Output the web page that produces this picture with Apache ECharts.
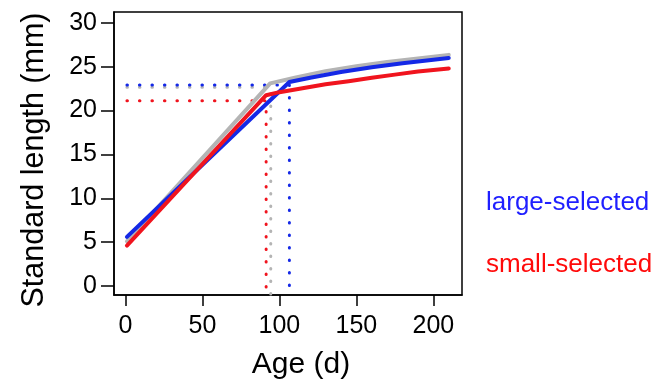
<!DOCTYPE html>
<html>
<head>
<meta charset="utf-8">
<script src="https://cdn.jsdelivr.net/npm/echarts@6/dist/echarts.min.js"></script>
<style>
  html, body { margin: 0; padding: 0; background: #fff; }
  #chart { width: 656px; height: 381px; }
</style>
</head>
<body>
<div id="chart"></div>
<script>
// 刻度
const xTicks = [0, 50, 100, 150, 200];
const yTicks = [0, 5, 10, 15, 20, 25, 30];

// 实线：全部 / large-selected / small-selected
const allAge = [1, 94, 110, 130, 150, 170, 190, 210];
const allLen = [5.1, 23.1, 23.75, 24.5, 25.05, 25.55, 25.95, 26.35];
const largeAge = [1, 106.5, 120, 140, 160, 180, 210];
const largeLen = [5.6, 23.25, 23.75, 24.4, 24.95, 25.4, 26.0];
const smallAge = [1, 91.4, 100, 115, 130, 145, 160, 175, 190, 210];
const smallLen = [4.6, 21.75, 22.1, 22.55, 23.0, 23.35, 23.75, 24.1, 24.45, 24.8];

// 虚线参考位置 [拐点年龄, 长度]
const allMark = [94.4, 22.66];
const largeMark = [106.5, 22.92];
const smallMark = [91.4, 21.13];

const xMin = -7.4, xMax = 218.6;
const yMin = -1.03, yMax = 31.24;

const BLUE = '#1428e6';
const RED = '#f0141e';
const GRAY = '#b4b4b4';
const FONT = '"Liberation Sans", Arial, Helvetica, sans-serif';

function pairs(xs, ys) {
  return xs.map((x, i) => [x, ys[i]]);
}

// 水平到拐点，再竖直到底部
function markPath(mark) {
  return [[1, mark[1]], [mark[0], mark[1]], [mark[0], yMin]];
}

function dotted(name, mark, color) {
  return {
    name: name,
    type: 'line',
    data: markPath(mark),
    showSymbol: false,
    silent: true,
    lineStyle: { color: color, width: 3, type: [0.5, 12], cap: 'round' },
    z: 1
  };
}

function solid(name, data, color, z) {
  return {
    name: name,
    type: 'line',
    data: data,
    showSymbol: false,
    silent: true,
    lineStyle: { color: color, width: 4, cap: 'round', join: 'round' },
    z: z
  };
}

const chart = echarts.init(document.getElementById('chart'));

chart.setOption({
  animation: false,
  backgroundColor: '#fff',
  grid: {
    left: 114, top: 12, right: 194, bottom: 86,
    outerBoundsMode: 'none',
    show: true, borderColor: '#000', borderWidth: 1.5, backgroundColor: 'transparent'
  },
  xAxis: {
    type: 'value',
    min: xMin, max: xMax,
    name: 'Age (d)',
    nameLocation: 'middle',
    nameGap: 55,
    nameTextStyle: { fontSize: 30, color: '#000', fontFamily: FONT, padding: [0, 0, 0, 26] },
    splitLine: { show: false },
    axisLine: { show: true, onZero: false, lineStyle: { color: '#000', width: 1.5 } },
    axisTick: { show: true, length: 11, customValues: xTicks, lineStyle: { color: '#000', width: 1.5 } },
    axisLabel: { customValues: xTicks, margin: 19, fontSize: 25, color: '#000', fontFamily: FONT }
  },
  yAxis: {
    type: 'value',
    min: yMin, max: yMax,
    name: 'Standard length (mm)',
    nameLocation: 'middle',
    nameGap: 64,
    nameTextStyle: { fontSize: 30.5, color: '#000', fontFamily: FONT, padding: [0, 13, 0, 0] },
    splitLine: { show: false },
    axisLine: { show: true, onZero: false, lineStyle: { color: '#000', width: 1.5 } },
    axisTick: { show: true, length: 13, customValues: yTicks, lineStyle: { color: '#000', width: 1.5 } },
    axisLabel: { customValues: yTicks, margin: 17, fontSize: 25, color: '#000', fontFamily: FONT }
  },
  graphic: [
    { type: 'text', left: 486, top: 190, style: { text: 'large-selected', fill: '#1f1fff', font: '26px ' + FONT } },
    { type: 'text', left: 486, top: 252, style: { text: 'small-selected', fill: '#ff0a0a', font: '26px ' + FONT } }
  ],
  series: [
    dotted('all-mark', allMark, GRAY),
    dotted('large-mark', largeMark, BLUE),
    dotted('small-mark', smallMark, RED),
    solid('all', pairs(allAge, allLen), GRAY, 2),
    solid('large-selected', pairs(largeAge, largeLen), BLUE, 3),
    solid('small-selected', pairs(smallAge, smallLen), RED, 4)
  ]
});
</script>
</body>
</html>
